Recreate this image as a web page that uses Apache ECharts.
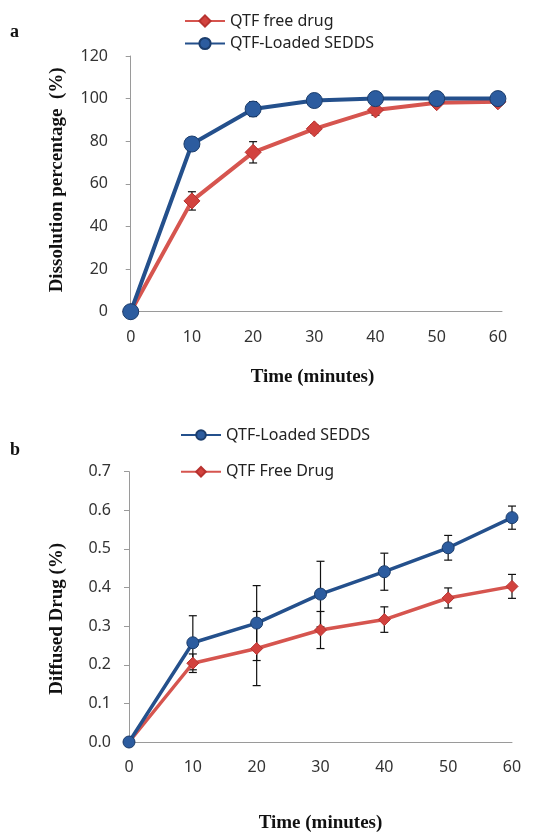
<!DOCTYPE html>
<html><head><meta charset="utf-8">
<script src="https://cdn.jsdelivr.net/npm/echarts@6/dist/echarts.min.js"></script>
<style>html,body{margin:0;padding:0;background:#fff}#c{width:540px;height:834px}</style>
</head><body><div id="c"></div>
<script>
// ---- data ----
const timeMin = [0, 10, 20, 30, 40, 50, 60];
const xTicks = [0, 10, 20, 30, 40, 50, 60];
// Chart a: dissolution percentage (%)
const dissFree = [0, 52, 74.8, 85.8, 94.7, 98.1, 98.5];
const dissFreeErr = [0, 4.3, 5, 2, 2.5, 1, 1];
const dissSedds = [0, 78.7, 95.1, 99.1, 100, 100, 100];
const dissSeddsErr = [0, 3, 3.5, 1, 1, 1, 1];
// Chart b: diffused drug (%)
const diffSedds = [0, 0.257, 0.308, 0.383, 0.441, 0.503, 0.581];
const diffSeddsErr = [0, 0.07, 0.097, 0.085, 0.048, 0.032, 0.03];
const diffFree = [0, 0.204, 0.242, 0.29, 0.317, 0.373, 0.403];
const diffFreeErr = [0, 0.024, 0.096, 0.048, 0.033, 0.026, 0.031];

const BLUE = '#24508C', RED = '#D6554F';
const pairs = (v) => timeMin.map((t, i) => [t, v[i]]);
const errData = (v, e) => timeMin.map((t, i) => [t, v[i], e[i]]).filter(d => d[2] > 0);

function errRender(params, api) {
  const x = api.value(0), y = api.value(1), e = api.value(2);
  const p1 = api.coord([x, y + e]), p2 = api.coord([x, y - e]);
  const w = 4;
  const st = { stroke: '#111', lineWidth: 1.2 };
  return { type: 'group', children: [
    { type: 'line', shape: { x1: p1[0], y1: p1[1], x2: p2[0], y2: p2[1] }, style: st },
    { type: 'line', shape: { x1: p1[0] - w, y1: p1[1], x2: p1[0] + w, y2: p1[1] }, style: st },
    { type: 'line', shape: { x1: p2[0] - w, y1: p2[1], x2: p2[0] + w, y2: p2[1] }, style: st }
  ]};
}

const axLine = { lineStyle: { color: '#9a9a9a', width: 1 } };
const labelFont = { fontFamily: 'Noto Sans', fontSize: 16, color: '#333' };
const nameFont = { fontFamily: 'Liberation Serif', fontWeight: 'bold', fontSize: 19, color: '#111' };
const legendFont = { fontFamily: 'Noto Sans', fontSize: 16, color: '#222', lineHeight: 16 };
const legendBase = { orient: 'vertical', itemWidth: 40, itemHeight: 14, padding: 0, textStyle: legendFont };

const chart = echarts.init(document.getElementById('c'), null, { renderer: 'canvas' });
chart.setOption({
  animation: false,
  backgroundColor: '#fff',
  graphic: [
    { type: 'text', left: 10, top: 23, style: { text: 'a', font: 'bold 18px "Liberation Serif"', fill: '#111' } },
    { type: 'text', left: 10, top: 441, style: { text: 'b', font: 'bold 18px "Liberation Serif"', fill: '#111' } }
  ],
  legend: [
    Object.assign({ left: 184, top: 13, data: ['QTF free drug'] }, legendBase),
    Object.assign({ left: 184, top: 35.5, data: ['QTF-Loaded SEDDS'] }, legendBase),
    Object.assign({ left: 180, top: 427, data: ['QTF-Loaded SEDDS'] }, legendBase, { itemHeight: 12 }),
    Object.assign({ left: 180, top: 463.7, data: ['QTF Free Drug'] }, legendBase, { itemHeight: 12 })
  ],
  grid: [
    { left: 123, right: 38, top: 56, bottom: 522.3 },
    { left: 129, right: 28, top: 471.7, bottom: 87 }
  ],
  xAxis: [
    { gridIndex: 0, type: 'value', min: -1.26, max: 60.67,
      axisLine: axLine, axisTick: { show: false }, splitLine: { show: false },
      axisLabel: Object.assign({ customValues: xTicks, margin: 18 }, labelFont),
      name: 'Time (minutes)', nameLocation: 'middle', nameGap: 56, nameTextStyle: nameFont },
    { gridIndex: 1, type: 'value', min: 0, max: 60,
      axisLine: axLine, axisTick: { show: false }, splitLine: { show: false },
      axisLabel: Object.assign({ customValues: xTicks, margin: 17 }, labelFont),
      name: 'Time (minutes)', nameLocation: 'middle', nameGap: 72, nameTextStyle: nameFont }
  ],
  yAxis: [
    { gridIndex: 0, type: 'value', min: 0, max: 120, interval: 20,
      axisLine: Object.assign({ show: true }, axLine), axisTick: { show: true, length: 5, lineStyle: { color: '#9a9a9a' } },
      splitLine: { show: false }, axisLabel: Object.assign({ margin: 15 }, labelFont),
      name: 'Dissolution percentage  (%)', nameLocation: 'middle', nameGap: 56, nameTextStyle: Object.assign({ padding: [0, 0, 0, 8] }, nameFont) },
    { gridIndex: 1, type: 'value', min: 0, max: 0.7, interval: 0.1,
      axisLine: Object.assign({ show: true }, axLine), axisTick: { show: true, length: 5, lineStyle: { color: '#9a9a9a' } },
      splitLine: { show: false },
      axisLabel: Object.assign({ margin: 18, formatter: v => v.toFixed(1) }, labelFont),
      name: 'Diffused Drug (%)', nameLocation: 'middle', nameGap: 62, nameTextStyle: Object.assign({ padding: [0, 24, 0, 0] }, nameFont) }
  ],
  series: [
    { type: 'custom', name: 'errFreeA', xAxisIndex: 0, yAxisIndex: 0, renderItem: errRender, data: errData(dissFree, dissFreeErr), z: 1 },
    { type: 'custom', name: 'errSeddsA', xAxisIndex: 0, yAxisIndex: 0, renderItem: errRender, data: errData(dissSedds, dissSeddsErr), z: 1 },
    { type: 'line', name: 'QTF free drug', xAxisIndex: 0, yAxisIndex: 0, data: pairs(dissFree), z: 3,
      symbol: 'diamond', symbolSize: 16, lineStyle: { color: RED, width: 4 },
      itemStyle: { color: '#D2423E', borderColor: '#B8322F', borderWidth: 1 } },
    { type: 'line', name: 'QTF-Loaded SEDDS', xAxisIndex: 0, yAxisIndex: 0, data: pairs(dissSedds), z: 4,
      symbol: 'circle', symbolSize: 16, lineStyle: { color: BLUE, width: 4 },
      itemStyle: { color: '#2C5C9F', borderColor: '#1B3D6C', borderWidth: 1 } },

    { type: 'custom', name: 'errSeddsB', xAxisIndex: 1, yAxisIndex: 1, renderItem: errRender, data: errData(diffSedds, diffSeddsErr), z: 1 },
    { type: 'custom', name: 'errFreeB', xAxisIndex: 1, yAxisIndex: 1, renderItem: errRender, data: errData(diffFree, diffFreeErr), z: 1 },
    { type: 'line', name: 'QTF Free Drug', xAxisIndex: 1, yAxisIndex: 1, data: pairs(diffFree), z: 3,
      symbol: 'diamond', symbolSize: 12, lineStyle: { color: RED, width: 3.5 },
      itemStyle: { color: '#D2423E', borderColor: '#B8322F', borderWidth: 1 } },
    { type: 'line', name: 'QTF-Loaded SEDDS', xAxisIndex: 1, yAxisIndex: 1, data: pairs(diffSedds), z: 4,
      symbol: 'circle', symbolSize: 12, lineStyle: { color: BLUE, width: 3.5 },
      itemStyle: { color: '#2C5C9F', borderColor: '#1B3D6C', borderWidth: 1 } }
  ]
});
</script></body></html>
